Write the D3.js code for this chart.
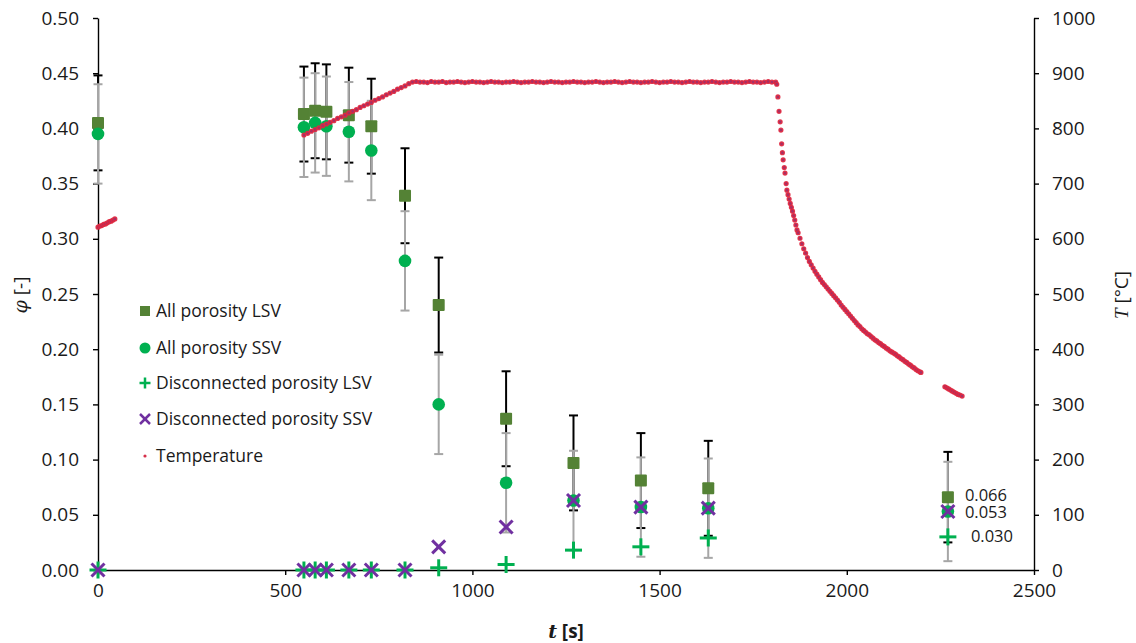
<!DOCTYPE html>
<html><head><meta charset="utf-8">
<script src="https://cdn.jsdelivr.net/npm/d3@7"></script>
<style>
body{margin:0;background:#fff}
text{font-family:"Open Sans",Lato,sans-serif}
</style>
</head><body>
<svg id="c" width="1136" height="643"></svg>
<script>
// ---------- data ----------
const times    = [0,550,580,610,670,730,820,910,1090,1270,1450,1630,2270];
const allLSV   = [0.405,0.413,0.416,0.415,0.412,0.402,0.339,0.240,0.137,0.097,0.081,0.074,0.066];
const allSSV   = [0.395,0.401,0.405,0.402,0.397,0.380,0.280,0.150,0.079,0.063,0.057,0.056,0.053];
const discLSV  = [0,0,0,0,0,0,0,0.002,0.005,0.018,0.021,0.029,0.030];
const discSSV  = [0,0,0,0,0,0,0,0.021,0.039,0.063,0.057,0.056,0.053];
const errLSV   = [0.043,0.043,0.043,0.043,0.043,0.043,0.043,0.043,0.043,0.043,0.043,0.043,0.041];
const errSSV   = [0.045,0.045,0.045,0.045,0.045,0.045,0.045,0.045,0.045,0.045,0.045,0.045,0.045];
const endLabels = ["0.066","0.053","0.030"];

const tempTime = [
  0,5,10,15,20,25,30,35,40,45,
  550,560,570,580,590,600,610,620,630,640,650,660,670,680,690,700,710,720,730,740,750,760,770,780,790,800,810,820,830,840,
  850,860,870,880,890,900,910,920,930,940,950,960,970,980,990,1000,1010,1020,1030,1040,1050,1060,1070,1080,1090,1100,
  1110,1120,1130,1140,1150,1160,1170,1180,1190,1200,1210,1220,1230,1240,1250,1260,1270,1280,1290,1300,1310,1320,1330,1340,
  1350,1360,1370,1380,1390,1400,1410,1420,1430,1440,1450,1460,1470,1480,1490,1500,1510,1520,1530,1540,1550,1560,1570,1580,
  1590,1600,1610,1620,1630,1640,1650,1660,1670,1680,1690,1700,1710,1720,1730,1740,1750,1760,1770,1780,1790,1800,1810,
  1813,1816,1819,1822,1824,1826,1828,1830,1833,1835,1838,1840,1843,1846,1849,1852,1855,1858,1861,1864,1867,
  1870,1875,1880,1885,1890,1895,1900,1905,1910,1915,1920,1925,1930,1935,1940,1945,1950,1955,1960,1965,1970,1975,1980,1985,
  1990,1995,2000,2005,2010,2015,2020,2025,2030,2035,2040,2045,2050,2055,2060,2065,2070,2075,2080,2085,2090,2095,2100,2105,
  2110,2115,2120,2125,2130,2135,2140,2145,2150,2155,2160,2165,2170,2175,2180,2185,2190,2195,2198,
  2262,2267,2272,2277,2282,2287,2292,2297,2302,2308
];
const tempValue = [
  621,623,624,626,627,629,631,632,634,636,
  788,791,795,798,801,805,808,811,814,818,821,824,828,831,834,838,841,844,847,851,854,857,861,864,867,871,874,877,881,884,
  885,884,884,883,885,884,884,885,883,884,884,885,884,883,884,885,884,884,883,884,885,884,884,883,884,884,
  885,884,883,884,884,885,884,884,883,884,885,884,884,883,884,884,885,884,884,883,884,884,885,884,
  883,884,884,885,884,883,884,885,884,884,883,884,884,885,884,883,884,884,885,884,884,883,884,885,
  884,884,883,884,884,885,884,883,884,884,885,884,884,883,884,885,884,884,883,884,885,884,884,
  880,857,831,812,797,772,756,743,729,719,700,688,680,672,664,657,650,642,634,625,616,
  611,601,591,582,574,566,559,553,547,541,536,531,526,521,517,513,509,505,501,497,493,489,485,480,
  476,472,468,464,460,456,452,448,444,441,437,434,431,428,426,423,420,417,415,412,410,407,405,402,
  400,397,395,393,391,388,386,383,381,378,376,373,371,368,366,363,361,359,358,
  332,330,328,326,324,322,320,318,317,315
];

const xTicks  = [0,500,1000,1500,2000,2500];
const yTicks  = [0,0.05,0.10,0.15,0.20,0.25,0.30,0.35,0.40,0.45,0.50];
const y2Ticks = [0,100,200,300,400,500,600,700,800,900,1000];
const legendNames = ["All porosity LSV","All porosity SSV","Disconnected porosity LSV","Disconnected porosity SSV","Temperature"];

// ---------- setup ----------
const svg = d3.select("#c");
const L = 98, R = 1034, T = 18, B = 570;
const x  = d3.scaleLinear().domain([0,2500]).range([L,R]);
const y  = d3.scaleLinear().domain([0,0.5]).range([B,T]);
const y2 = d3.scaleLinear().domain([0,1000]).range([B,T]);

const cSq = "#548235", cCi = "#00b050", cPl = "#00b050", cX = "#7030a0";
const textCol = "#1a1a1a";

function styleAxis(g){
  g.selectAll("path.domain").attr("stroke","#000").attr("stroke-width",1.4);
  g.selectAll(".tick line").attr("stroke","#000").attr("stroke-width",1.4);
  g.selectAll(".tick text").attr("fill",textCol).style("font-size","19px");
}

svg.append("g").attr("transform",`translate(0,${B})`)
  .call(d3.axisBottom(x).tickValues(xTicks).tickFormat(d3.format("d")).tickSize(5).tickSizeOuter(0).tickPadding(9))
  .call(styleAxis);
svg.append("g").attr("transform",`translate(${L},0)`)
  .call(d3.axisLeft(y).tickValues(yTicks).tickFormat(d3.format(".2f")).tickSize(5).tickSizeOuter(0).tickPadding(14))
  .call(styleAxis);
svg.append("g").attr("transform",`translate(${R},0)`)
  .call(d3.axisRight(y2).tickValues(y2Ticks).tickFormat(d3.format("d")).tickSize(5).tickSizeOuter(0).tickPadding(13))
  .call(styleAxis);

// axis titles
svg.append("text").attr("x",566).attr("y",638).attr("text-anchor","middle")
  .style("font-size","19px").style("font-weight","bold").attr("fill",textCol)
  .html('<tspan font-style="italic" font-family="DejaVu Serif, serif">t</tspan> [s]');
svg.append("text").attr("transform","translate(27,295) rotate(-90)").attr("text-anchor","middle")
  .style("font-size","19px").attr("fill",textCol)
  .html('<tspan font-style="italic" font-family="DejaVu Serif, serif">φ</tspan> [-]');
svg.append("text").attr("transform","translate(1128,295) rotate(-90)").attr("text-anchor","middle")
  .style("font-size","19px").attr("fill",textCol)
  .html('<tspan font-style="italic" font-family="Liberation Serif, serif">T</tspan> [°C]');

// ---------- error bars ----------
function errBars(vals, errs, color){
  const g = svg.append("g").attr("stroke",color).attr("stroke-width",2);
  times.forEach((t,i)=>{
    const cx = x(t), y1 = y(vals[i]+errs[i]), y0 = y(vals[i]-errs[i]);
    g.append("line").attr("x1",cx).attr("x2",cx).attr("y1",y1).attr("y2",y0);
    g.append("line").attr("x1",cx-4.5).attr("x2",cx+4.5).attr("y1",y1).attr("y2",y1);
    g.append("line").attr("x1",cx-4.5).attr("x2",cx+4.5).attr("y1",y0).attr("y2",y0);
  });
}
errBars(allLSV, errLSV, "#000");
errBars(allSSV, errSSV, "#a6a6a6");

// ---------- markers ----------
const sq = 12;
svg.append("g").selectAll("rect").data(times).join("rect")
  .attr("x",(d)=>x(d)-sq/2).attr("y",(d,i)=>y(allLSV[i])-sq/2)
  .attr("width",sq).attr("height",sq).attr("rx",1).attr("fill",cSq);
svg.append("g").selectAll("circle").data(times).join("circle")
  .attr("cx",d=>x(d)).attr("cy",(d,i)=>y(allSSV[i])).attr("r",6.3).attr("fill",cCi);
function plus(g,cx,cy,s,col,w){
  g.append("line").attr("x1",cx-s).attr("x2",cx+s).attr("y1",cy).attr("y2",cy).attr("stroke",col).attr("stroke-width",w);
  g.append("line").attr("x1",cx).attr("x2",cx).attr("y1",cy-s).attr("y2",cy+s).attr("stroke",col).attr("stroke-width",w);
}
function cross(g,cx,cy,s,col,w){
  g.append("line").attr("x1",cx-s).attr("x2",cx+s).attr("y1",cy-s).attr("y2",cy+s).attr("stroke",col).attr("stroke-width",w);
  g.append("line").attr("x1",cx-s).attr("x2",cx+s).attr("y1",cy+s).attr("y2",cy-s).attr("stroke",col).attr("stroke-width",w);
}
const gp = svg.append("g");
times.forEach((t,i)=>plus(gp,x(t),y(discLSV[i]),8.5,cPl,3));
const gx = svg.append("g");
times.forEach((t,i)=>cross(gx,x(t),y(discSSV[i]),6.5,cX,3));

// temperature
svg.append("g").selectAll("circle").data(tempTime).join("circle")
  .attr("cx",d=>x(d)).attr("cy",(d,i)=>y2(tempValue[i])).attr("r",1.9)
  .attr("fill","#a33068").attr("stroke","#e0283f").attr("stroke-width",1.4).attr("stroke-opacity",0.9);

// end labels
const last = times.length-1;
const lblVals = [allLSV[last], discSSV[last], discLSV[last]];
const lblDx = [17,17,23];
const lblDy = [-1,2,1];
endLabels.forEach((s,i)=>{
  svg.append("text").attr("x",x(times[last])+lblDx[i]).attr("y",y(lblVals[i])+lblDy[i])
    .attr("dominant-baseline","middle").style("font-size","16.5px").attr("fill",textCol).text(s);
});

// ---------- legend ----------
const legY = [311,348,383,419,456];
const lg = svg.append("g");
legendNames.forEach((n,i)=>{
  const cy = legY[i], cx = 145;
  if(i===0) lg.append("rect").attr("x",cx-5).attr("y",cy-5).attr("width",10).attr("height",10).attr("fill",cSq);
  if(i===1) lg.append("circle").attr("cx",cx).attr("cy",cy).attr("r",5.5).attr("fill",cCi);
  if(i===2) plus(lg,cx,cy,5.5,cPl,2.5);
  if(i===3) cross(lg,cx,cy,5,cX,2.5);
  if(i===4) lg.append("circle").attr("cx",cx).attr("cy",cy).attr("r",1.6).attr("fill","#d6304a");
  lg.append("text").attr("x",156).attr("y",cy+1).attr("dominant-baseline","middle")
    .style("font-size","17.5px").attr("fill",textCol).text(n);
});
</script>
</body></html>
